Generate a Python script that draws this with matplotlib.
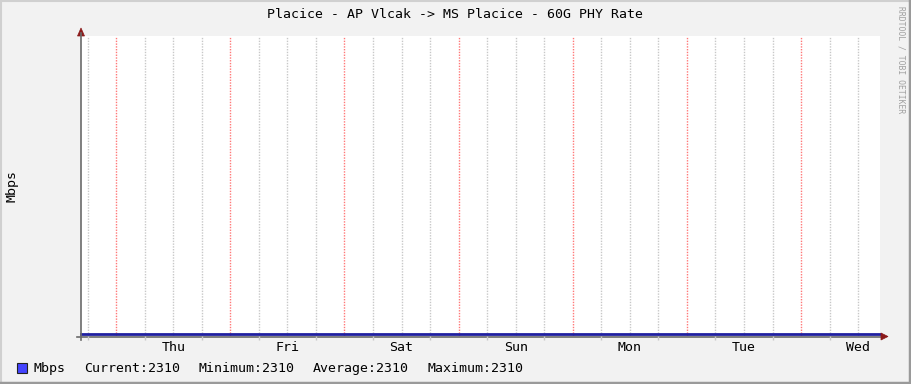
import matplotlib
matplotlib.use("Agg")
import matplotlib.pyplot as plt
from matplotlib.lines import Line2D
from matplotlib.patches import Rectangle, Polygon

# --- data (hours counted from Wed 00:00 of the first week) ---
times_h = [16.6, 40.6, 64.6, 88.6, 112.6, 136.6, 160.6, 184.6]
mbps = [2310, 2310, 2310, 2310, 2310, 2310, 2310, 2310]
day_labels = ["Thu", "Fri", "Sat", "Sun", "Mon", "Tue", "Wed"]
title = "Placice - AP Vlcak -> MS Placice - 60G PHY Rate"
legend_name = "Mbps"
legend_stats = ["Current:2310", "Minimum:2310", "Average:2310", "Maximum:2310"]

W, H = 911, 384
plt.rcParams["font.family"] = ["DejaVu Sans Mono", "DejaVu Sans"]

fig = plt.figure(figsize=(W / 100, H / 100), dpi=100)
fig.patch.set_facecolor("#f2f2f2")

# plot area in pixel coords
x0, x1, y_top, y_bot = 81, 880, 36, 336
ax = fig.add_axes([x0 / W, 1 - y_bot / H, (x1 - x0) / W, (y_bot - y_top) / H])
ax.set_facecolor("white")

xmin, xmax = times_h[0], times_h[-1]
ax.set_xlim(xmin, xmax)
ax.set_ylim(2309.5, 2400)

# grid: grey every 6h, red at midnight
six_h = [h for h in range(18, 186, 6) if h % 24 != 0]
midnights = [h for h in range(24, 186, 24)]
for h in six_h:
    ax.axvline(h, color="#c8c8c8", lw=1.0, ls=(0, (1, 1)), zorder=1)
for h in midnights:
    ax.axvline(h, color="#ff7878", lw=1.0, ls=(0, (1, 1)), zorder=1)
ax.set_xticks(six_h, minor=True)
ax.tick_params(axis="x", which="minor", length=3, color="#c8c8c8", width=1.0)

noons = [36 + 24 * i for i in range(len(day_labels))]
ax.set_xticks(noons, day_labels)
ax.tick_params(axis="x", which="major", length=0, pad=3.5, labelsize=9.5, colors="black")
ax.set_yticks([])

for s in ax.spines.values():
    s.set_visible(False)

ax.plot(times_h, mbps, color="#1f1fa0", lw=2.0, zorder=5, clip_on=False)

# axis lines with arrows (figure pixel coords)
def px(x, y):
    return x / W, 1 - y / H

fig.add_artist(Line2D(*zip(px(81, 340), px(81, 33)), color="#6a6a6a", lw=1.2))
fig.add_artist(Line2D(*zip(px(77, 336.5), px(882, 336.5)), color="#6a6a6a", lw=1.2, zorder=0))
fig.add_artist(Polygon([px(77.5, 36), px(84.5, 36), px(81, 28)], closed=True,
                       facecolor="#8b1a1a", edgecolor="#8b1a1a", lw=0.5))
fig.add_artist(Polygon([px(881, 333), px(881, 340), px(888, 336.5)], closed=True,
                       facecolor="#8b1a1a", edgecolor="#8b1a1a", lw=0.5))

# texts
fig.text(455 / W, 1 - 14 / H, title, ha="center", va="center", fontsize=9.5)
fig.text(12 / W, 1 - 186 / H, "Mbps", ha="center", va="center", rotation=90, fontsize=9.5)
fig.text(901 / W, 1 - 60 / H, "RRDTOOL / TOBI OETIKER", ha="center", va="center",
         rotation=270, fontsize=5.8, color="#a0a0a0")

# legend
fig.add_artist(Rectangle(px(17, 373), 10 / W, 10 / H, facecolor="#4444ff",
                         edgecolor="#222222", lw=0.8))
fig.text(34 / W, 1 - 368.5 / H, legend_name, ha="left", va="center", fontsize=9.5)
for i, s in enumerate(legend_stats):
    fig.text((84.5 + 114.2 * i) / W, 1 - 368.5 / H, s, ha="left", va="center", fontsize=9.5)

# 3D-ish frame
fig.add_artist(Line2D(*zip(px(0.5, H), px(0.5, 0.5)), color="#d0d0d0", lw=1.5))
fig.add_artist(Line2D(*zip(px(0, 0.5), px(W, 0.5)), color="#d0d0d0", lw=1.5))
fig.add_artist(Line2D(*zip(px(W - 1.5, 0), px(W - 1.5, H)), color="#9a9a9a", lw=2.5))
fig.add_artist(Line2D(*zip(px(0, H - 1.5), px(W, H - 1.5)), color="#9a9a9a", lw=2.5))

fig.savefig("out.png", dpi=100, facecolor=fig.get_facecolor())
